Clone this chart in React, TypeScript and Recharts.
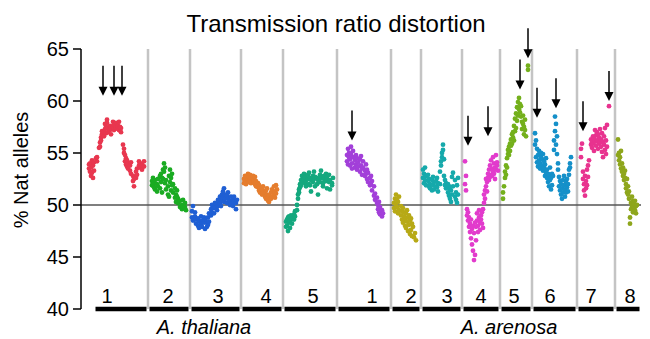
import React from 'react';
import { ScatterChart, Scatter, XAxis, YAxis, ReferenceLine } from 'recharts';

// each row: [position, value, value, ...]  (position on a shared genome axis)
type Row = number[];

const thal1: Row[] = [
  [89, 53.5, 53.9], [90, 53.2, 54.0], [91, 52.8, 53.6], [92, 53.1, 54.3], [93, 53.8, 52.6],
  [94, 54.1, 53.3], [96, 54.5], [97, 54.2, 54.6], [99, 55.5], [100, 56.0, 55.6],
  [101, 56.5, 56.2], [102, 56.8, 57.1], [104, 56.6, 57.0], [105, 57.3, 57.8], [106, 57.5, 56.9],
  [107, 57.9, 58.2], [108, 57.4, 57.0], [110, 57.2, 57.6], [111, 56.8, 57.4], [113, 57.5, 58.0],
  [114, 57.2, 57.7], [116, 57.4, 57.9], [118, 57.6, 57.3], [119, 58.0, 57.2], [120, 57.5],
  [121, 57.0, 57.4], [123, 55.8], [124, 55.4, 55.0], [125, 54.8, 54.2], [126, 54.5, 53.9],
  [127, 53.7, 54.3], [128, 53.5, 54.0], [130, 53.3, 53.8], [131, 54.1, 53.0], [133, 52.3, 52.8],
  [134, 51.8, 52.5], [136, 52.6, 53.2], [137, 53.5, 52.9], [139, 53.8, 54.2], [140, 53.6, 54.0],
  [142, 53.9, 53.4], [144, 53.7, 54.2],
];
const thal2: Row[] = [
  [152, 52.3, 51.9], [153, 52.6, 52.0], [154, 51.7, 52.2], [155, 52.4, 51.5], [157, 52.0, 51.3],
  [158, 52.5, 51.8], [160, 52.8, 51.6], [161, 52.2, 53.0], [162, 52.6, 51.2], [163, 53.4, 52.5],
  [164, 54.0, 53.2], [165, 53.6, 52.1], [166, 51.5, 52.4], [168, 51.0, 51.8], [169, 52.8, 50.8],
  [170, 53.4, 52.2], [171, 52.6, 51.4], [172, 53.0, 51.9], [173, 51.2, 52.0], [175, 51.6, 50.7],
  [176, 51.0, 50.3], [177, 50.8, 51.4], [178, 50.2, 50.6], [180, 50.4, 49.8], [182, 50.0, 49.6],
  [183, 50.5, 49.8], [185, 49.8, 50.2], [186, 49.5],
];
const thal3: Row[] = [
  [192, 49.4, 48.8], [193, 49.9, 48.5], [195, 48.9, 49.3], [196, 48.2, 48.6], [198, 48.7, 48.0],
  [199, 48.4, 47.8], [201, 48.9, 48.2], [202, 48.5, 47.9], [204, 48.8, 48.3], [205, 47.7, 48.6],
  [207, 48.3, 47.9], [208, 48.8, 48.1], [209, 49.2, 48.4], [211, 49.6, 49.0], [212, 50.0, 49.3],
  [214, 49.2, 49.7], [215, 49.8, 50.2], [217, 50.1, 49.5], [218, 50.5, 49.9], [220, 50.2, 50.8],
  [221, 50.6, 49.9], [222, 51.0, 50.4], [223, 51.3, 50.7], [224, 51.6, 50.3], [225, 51.0, 50.6],
  [227, 50.2, 50.9], [228, 50.6, 51.2], [230, 50.4, 50.0], [231, 50.8, 50.1], [233, 50.5, 49.9],
  [234, 50.3, 50.8], [236, 50.2, 49.6], [237, 50.5],
];
const thal4: Row[] = [
  [244, 52.5, 52.1], [245, 52.8, 52.3], [246, 52.0, 52.6], [248, 52.4, 53.0], [249, 52.7, 52.2],
  [250, 52.9, 52.4], [251, 52.1, 52.6], [253, 52.5, 52.8], [254, 52.2, 52.4], [255, 52.0, 52.7],
  [256, 51.8, 52.3], [258, 51.7, 52.1], [259, 51.4, 51.9], [260, 51.2, 51.6], [262, 51.5, 51.0],
  [263, 51.8, 51.2], [265, 51.1, 50.8], [266, 51.4, 50.6], [267, 51.0, 51.6], [268, 50.7, 50.4],
  [269, 50.3, 50.9], [271, 51.2, 50.6], [272, 50.8, 51.5], [274, 51.0, 51.8], [275, 51.3, 50.7],
  [276, 51.9, 51.1], [277, 51.5],
];
const thal5: Row[] = [
  [286, 48.4, 47.9], [287, 48.0, 48.6], [288, 48.8, 47.5], [289, 48.3, 48.9], [290, 47.8, 48.5],
  [291, 48.6, 49.0], [292, 48.2, 48.7], [294, 49.1, 48.6], [295, 49.4, 48.9], [297, 50.0, 49.5],
  [298, 50.6, 51.0], [299, 51.5, 51.2], [300, 52.0, 51.7], [301, 52.4, 51.9], [302, 52.8, 52.2],
  [304, 53.0, 52.5], [305, 52.7, 52.1], [306, 51.8, 52.3], [308, 52.5, 52.9], [309, 53.1, 52.0],
  [310, 52.6, 51.9], [311, 51.3, 52.4], [313, 52.8, 52.2], [314, 53.2, 52.5], [315, 52.7, 51.8],
  [317, 52.0, 52.6], [318, 51.0, 52.4], [320, 52.9, 52.2], [321, 53.3, 52.6], [323, 52.1, 51.8],
  [324, 52.5, 52.8], [326, 53.0, 52.3], [327, 52.6, 51.6], [329, 52.2, 52.9], [330, 51.5, 52.4],
  [332, 52.1, 51.9], [333, 52.6],
];
const aren1: Row[] = [
  [347, 54.8, 54.2], [348, 55.4, 53.9], [349, 54.6, 55.0], [350, 53.8, 54.4], [351, 55.6, 54.9],
  [352, 54.0, 53.5], [353, 55.2, 54.6], [355, 54.3, 53.6], [356, 53.9, 54.8], [357, 54.5, 53.4],
  [358, 53.7, 54.1], [360, 54.4, 53.2], [361, 53.8, 54.7], [362, 53.5, 52.9], [363, 54.2, 53.6],
  [365, 53.3, 52.8], [366, 53.9, 53.0], [367, 52.5, 53.4], [368, 53.1, 52.2], [370, 52.6, 51.9],
  [371, 52.0, 52.8], [372, 51.4, 52.3], [374, 51.8, 50.9], [375, 51.1, 50.5], [377, 50.7, 50.2],
  [378, 50.0, 49.6], [379, 49.3, 50.3], [380, 49.8, 49.1], [382, 49.5, 48.9], [383, 49.2],
];
const aren2: Row[] = [
  [394, 50.2, 49.7], [395, 50.6, 49.4], [396, 51.0, 50.0], [397, 49.8, 50.5], [398, 50.3, 49.2],
  [399, 49.5, 50.8], [401, 49.9, 49.0], [402, 48.6, 49.4], [403, 49.7, 48.3], [404, 48.9, 49.3],
  [405, 48.0, 48.6], [406, 49.2, 47.8], [407, 48.4, 49.5], [408, 47.5, 48.8], [409, 48.1, 49.0],
  [410, 47.2, 48.5], [411, 48.7, 47.6], [412, 47.0, 48.2], [413, 47.9], [414, 46.9], [415, 47.3],
  [416, 46.6],
];
const aren3: Row[] = [
  [423, 52.6, 53.4], [424, 52.1, 53.0], [425, 53.6, 52.4], [426, 52.8, 51.9], [428, 52.3, 52.9],
  [429, 51.8, 52.5], [430, 52.0, 51.6], [432, 52.4, 51.4], [433, 51.9, 52.7], [434, 52.2, 51.5],
  [436, 51.8, 52.3], [437, 52.6, 51.7], [438, 52.1, 51.3], [440, 53.2, 52.0], [441, 54.2, 53.8],
  [442, 55.0, 54.6], [443, 55.8, 55.3], [444, 54.4, 52.8], [445, 52.4, 51.9], [446, 51.6, 52.1],
  [448, 51.2, 52.0], [449, 51.8, 50.9], [450, 50.6, 51.5], [451, 51.4, 50.3], [452, 52.7, 51.0],
  [453, 53.1, 51.8], [455, 52.4, 50.8], [456, 51.2, 50.5], [457, 51.9, 50.2], [458, 52.6, 51.0],
];
const aren4: Row[] = [
  [465, 54.2, 52.0], [466, 51.4, 52.8], [467, 49.6, 49.0], [468, 48.5, 49.3], [469, 48.8, 47.9],
  [470, 48.2, 47.4], [471, 46.8, 48.6], [472, 47.7, 46.2], [473, 45.6, 48.0], [474, 44.7, 47.3],
  [475, 45.2, 48.3], [476, 47.9, 46.6], [477, 48.5, 49.2], [478, 48.0, 47.4], [479, 48.8, 49.5],
  [480, 47.6, 48.3], [481, 49.0, 48.6], [482, 48.2, 49.3], [483, 49.6, 47.8], [484, 50.2, 51.0],
  [485, 51.4, 50.6], [486, 51.8, 52.5], [487, 52.2, 51.3], [488, 53.0, 52.6], [489, 52.4, 53.4],
  [490, 53.8, 52.7], [491, 52.9, 54.3], [492, 53.5, 52.8], [493, 54.6, 53.2], [494, 53.0, 54.0],
  [495, 53.6, 52.5], [496, 54.8, 53.4], [497, 53.8, 54.1], [498, 53.3],
];
const aren5: Row[] = [
  [503, 50.6, 51.2], [504, 51.8], [505, 52.6, 53.2], [506, 53.8, 52.9], [507, 54.5, 53.6],
  [508, 54.9, 55.3], [509, 55.6, 54.8], [510, 55.9, 55.2], [511, 56.3, 55.7], [512, 56.8, 55.9],
  [513, 56.5, 57.0], [514, 57.6, 56.2], [515, 57.1, 58.3], [516, 58.8, 57.4], [517, 59.4, 58.1],
  [518, 59.9, 58.6], [519, 60.3, 59.2], [520, 59.7, 58.9], [521, 58.5, 59.5], [522, 58.0, 57.3],
  [523, 57.8, 58.6], [524, 56.8, 57.5], [525, 57.2, 58.2], [526, 56.6], [528, 63.0, 63.4],
];
const aren6: Row[] = [
  [535, 56.9, 55.8], [536, 56.2, 54.6], [537, 55.4, 54.1], [538, 54.8, 53.7], [539, 55.2, 54.3],
  [540, 54.0, 53.5], [541, 54.6, 55.0], [542, 53.8, 54.4], [543, 53.3, 54.9], [544, 54.2, 53.6],
  [545, 53.9, 52.8], [546, 53.1, 54.5], [547, 52.6, 53.4], [548, 53.0, 52.2], [549, 51.8, 52.9],
  [550, 52.4, 53.6], [551, 51.5, 52.6], [552, 53.0, 51.9], [553, 52.8], [554, 55.3, 56.2],
  [555, 57.1, 58.5], [556, 55.8, 57.8], [557, 56.6, 54.9], [558, 54.0, 53.4], [559, 52.7, 51.8],
  [560, 52.3, 51.4], [561, 51.0, 52.0], [562, 51.6, 50.6], [563, 52.4, 51.2], [564, 51.9, 52.8],
  [565, 50.8, 51.5], [566, 51.2, 52.2], [567, 52.5, 51.7], [568, 51.3, 52.0], [569, 53.4, 52.9],
  [570, 54.0, 53.6], [571, 54.6],
];
const aren7: Row[] = [
  [581, 55.4, 54.6], [582, 55.9], [583, 53.2, 52.5], [584, 52.0, 51.4], [585, 52.8, 50.9],
  [586, 51.6, 52.3], [587, 53.4, 51.9], [588, 53.8, 52.7], [589, 54.3], [591, 55.8, 56.3],
  [592, 56.0, 55.5], [593, 56.6, 55.9], [594, 55.2, 56.4], [595, 57.2, 56.1], [596, 56.7, 55.7],
  [597, 56.2, 57.0], [598, 55.4, 56.8], [599, 56.5, 55.9], [600, 57.3, 56.0], [601, 55.6, 56.3],
  [602, 56.9, 55.1], [603, 56.1, 54.6], [604, 55.8, 56.6], [605, 57.4, 55.3], [606, 56.2, 54.9],
  [607, 55.6, 57.7], [609, 59.5],
];
const aren8: Row[] = [
  [618, 56.3, 54.8], [619, 55.0, 54.3], [620, 54.6, 53.9], [621, 55.2, 53.5], [622, 54.0, 53.2],
  [623, 53.6, 52.8], [624, 53.0, 52.4], [625, 52.6, 53.3], [626, 52.0, 51.6], [627, 52.5, 51.2],
  [628, 51.0, 51.8], [629, 50.6, 51.3], [630, 48.8, 48.2], [631, 50.2, 49.6], [632, 50.8, 49.9],
  [633, 50.4, 49.3], [634, 49.8, 50.1], [635, 49.5, 50.4], [636, 49.2, 49.9], [637, 50.0],
];

const chromColors = [
  '#e8374f', '#1aab22', '#1f5fd4', '#e57d2e', '#14a87e',
  '#a23fd9', '#b7a916', '#16a9ab', '#e23bcc', '#74b01c', '#1590c9', '#e8338f', '#8ea61c',
];
const chromRows = [thal1, thal2, thal3, thal4, thal5, aren1, aren2, aren3, aren4, aren5, aren6, aren7, aren8];
const chromNames = ['1', '2', '3', '4', '5', '1', '2', '3', '4', '5', '6', '7', '8'];
const chromLabelX = [107, 168, 218, 266, 313, 372, 411, 447, 481, 514, 550, 591, 630];
// chromosome boundaries along the genome axis
const boundaries = [94, 148, 190, 241, 283, 337, 391, 421, 462, 500, 532, 577, 615, 641];
const speciesNames = ['A. thaliana', 'A. arenosa'];
const speciesX = [204, 509];

const arrowX = [103, 114, 122, 352, 468, 488, 520, 528, 537, 556, 583, 609];
const arrowTip = [60.5, 60.5, 60.5, 56.2, 55.7, 56.6, 61.1, 64.1, 58.4, 59.3, 57.1, 60.0];

const yTicks = [40, 45, 50, 55, 60, 65];

const FONT = '"Liberation Sans", Arial, Helvetica, sans-serif';

const toPoints = (rows: Row[]) =>
  rows.flatMap(([x, ...ys]) => ys.map((y) => ({ x, y })));

const labelData = chromNames.map((name, i) => ({ x: chromLabelX[i], y: 40, name }));
const arrowData = arrowX.map((x, i) => ({ x, y: arrowTip[i] }));

const Dot = (color: string) => (p: any) => (
  <circle cx={p.cx} cy={p.cy} r={2.4} fill={color} />
);

const Arrow = (p: any) => (
  <g>
    <line x1={p.cx} y1={p.cy - 30} x2={p.cx} y2={p.cy - 7} stroke="#000" strokeWidth={1.5} />
    <polygon points={`${p.cx - 4.5},${p.cy - 9} ${p.cx + 4.5},${p.cy - 9} ${p.cx},${p.cy}`} fill="#000" />
  </g>
);

const ChromLabel = (p: any) => (
  <text x={p.cx} y={p.cy - 6} textAnchor="middle" fontSize={20} fontFamily={FONT} fill="#000">
    {p.payload.name}
  </text>
);

const SpeciesTick = (p: any) => (
  <text x={p.x} y={p.y + 25} textAnchor="middle" fontSize={20} fontStyle="italic" fontFamily={FONT} fill="#000">
    {speciesNames[speciesX.indexOf(p.payload.value)]}
  </text>
);

export default function App() {
  return (
    <div style={{ position: 'absolute', left: 0, top: 0, width: 650, height: 339, background: '#fff' }}>
      <ScatterChart width={650} height={339} margin={{ top: 49, right: 9, bottom: 0, left: 0 }}>
        <XAxis
          type="number"
          dataKey="x"
          domain={[81, 641]}
          ticks={speciesX}
          tick={SpeciesTick}
          axisLine={false}
          tickLine={false}
          tickSize={0}
          tickMargin={0}
          height={30}
        />
        <YAxis
          type="number"
          dataKey="y"
          domain={[40, 65]}
          ticks={yTicks}
          width={81}
          axisLine={{ stroke: '#000', strokeWidth: 1.5 }}
          tickLine={{ stroke: '#000', strokeWidth: 1.5 }}
          tickSize={8}
          tickMargin={4}
          tick={{ fontSize: 20, fill: '#000', fontFamily: FONT }}
        />
        {boundaries.slice(1, -1).map((b) => (
          <ReferenceLine key={`sep-${b}`} x={b} stroke="#c4c4c4" strokeWidth={2.5} />
        ))}
        <ReferenceLine y={50} stroke="#555" strokeWidth={1.5} />
        {boundaries.slice(0, -1).map((b, i) => (
          <ReferenceLine
            key={`bar-${b}`}
            segment={[{ x: b + 1.5, y: 40 }, { x: boundaries[i + 1] - 1.5, y: 40 }]}
            stroke="#000"
            strokeWidth={4.5}
          />
        ))}
        {chromRows.map((rows, i) => (
          <Scatter
            key={`chr-${i}`}
            data={toPoints(rows)}
            fill={chromColors[i]}
            shape={Dot(chromColors[i])}
            isAnimationActive={false}
          />
        ))}
        <Scatter data={labelData} shape={ChromLabel} isAnimationActive={false} />
        <Scatter data={arrowData} shape={Arrow} isAnimationActive={false} />
      </ScatterChart>
      <svg
        width={650}
        height={339}
        style={{ position: 'absolute', left: 0, top: 0, pointerEvents: 'none' }}
      >
        <text x={336} y={32} textAnchor="middle" fontSize={24} fontFamily={FONT} fill="#000">
          Transmission ratio distortion
        </text>
        <text
          x={28}
          y={170}
          transform="rotate(-90 28 170)"
          textAnchor="middle"
          fontSize={20}
          fontFamily={FONT}
          fill="#000"
        >
          % Nat alleles
        </text>
      </svg>
    </div>
  );
}
